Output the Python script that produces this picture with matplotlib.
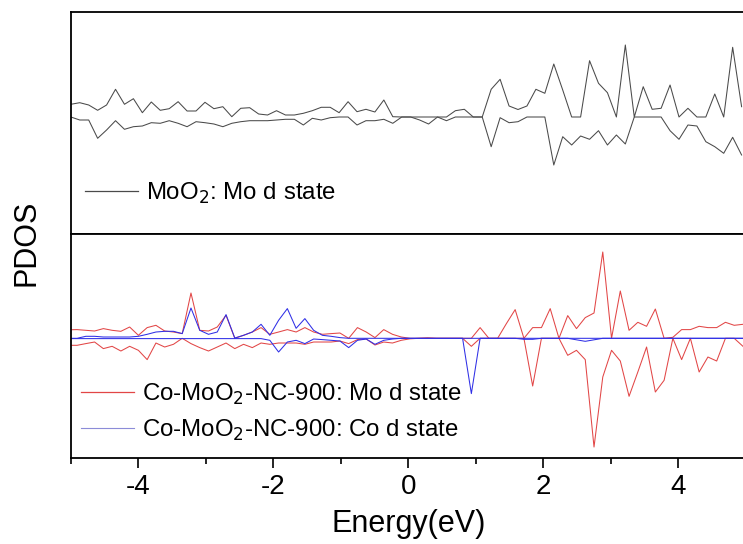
import numpy as np
import matplotlib.pyplot as plt
from matplotlib.lines import Line2D
from matplotlib.ticker import MultipleLocator

plt.rcParams['font.family'] = ['Liberation Sans', 'DejaVu Sans']
plt.rcParams['axes.unicode_minus'] = False

# energy grids (eV) of the two calculations
e_moo2 = -5.0 + 0.1325 * np.arange(76)
e_co = -5.037 + 0.1298 * np.arange(78)

# MoO2: Mo d, spin up / spin down
moo2_up = [1.27, 1.43, 1.2, 0.67, 1.2, 2.77, 1.27, 1.83, 0.43, 1.5, 0.67, 0.83, 1.53,
           0.6, 0.6, 1.47, 0.83, 1.03, 0.03, 0.87, 0.93, 0.3, 0.2, 0.63, 0.2, 0.2,
           0.37, 0.63, 0.97, 0.97, 0.43, 1.53, 0.53, 0.77, 0.5, 1.7, 0.03, 0, 0, 0,
           0, 0, 0, 0.63, 0.77, 0, 0, 2.77, 3.77, 1.1, 0.75, 1.1, 2.77, 2.37, 5.3,
           2.7, 0, 0, 5.63, 3.37, 2.43, 0, 7.2, 0, 3.03, 0.77, 0.87, 3.2, 0, 0.87,
           0, 0, 2.3, 0, 6.97, 1.03]
moo2_dn = [0, -0.3, -0.3, -2.13, -1.3, -0.37, -1.23, -0.97, -0.9, -0.57, -0.63, -0.37,
           -0.63, -0.97, -0.47, -0.57, -0.7, -0.97, -0.63, -0.47, -0.37, -0.37, -0.37,
           -0.3, -0.23, -0.23, -0.8, -0.13, -0.3, -0.07, 0, 0, -0.8, -0.37, -0.37,
           -0.23, -0.63, 0, 0, -0.3, -0.7, 0, -0.37, 0, 0, 0, 0, -2.97, -0.07, -0.57,
           -0.47, 0, 0, 0, -4.8, -1.97, -2.8, -1.9, -2.23, -1.37, -2.8, -1.8, -2.7, 0,
           0, 0, 0, -1.37, -2.23, -0.8, -0.9, -2.47, -2.97, -3.63, -2.03, -3.8]

# Co-MoO2-NC-900: Mo d, spin up / spin down
mo_up = [0.85, 0.87, 0.8, 0.73, 0.97, 0.8, 0.7, 1.13, 0.3, 1.07, 1.3, 0.73, 0.63, 0.47,
         4.53, 0.8, 0.73, 1.13, 2.3, 0, 0.3, 0.63, 1.07, 0.4, 0.63, 0.87, 0.63, 1.07,
         0.63, 0.4, 0.47, 0.53, 0, 1.07, 0.63, 0.07, 0.87, 0.4, 0.13, 0, 0, 0.05, 0,
         0, 0, 0, 0, 1.07, 0, 0, 1.47, 2.87, 0, 1.07, 1.07, 2.97, 0, 2.27, 0.97, 2.07,
         2.53, 8.63, 0, 4.73, 0.8, 1.6, 1.2, 2.93, 0, 0.1, 0.87, 0.87, 1.2, 1.07, 1.07,
         1.6, 1.3, 1.4]
mo_dn = [-0.7, -0.7, -0.53, -0.37, -1.03, -0.8, -1.27, -0.8, -1.2, -2.13, -0.47, -0.87,
         -0.6, 0, -0.53, -0.93, -1.27, -0.87, -0.47, -1.03, -0.6, -0.93, -0.47, -0.6,
         -0.47, -0.47, -0.47, -0.6, -0.37, -0.37, -0.37, -0.27, -0.53, -0.13, -0.07,
         -0.67, -0.37, -0.47, -0.2, -0.05, 0, 0, 0, 0, 0, 0, -0.8, 0, 0, 0, 0, 0, 0,
         -4.77, 0, 0, 0, -1.7, -1.2, -2.13, -10.87, -3.87, -1.2, -2.27, -5.8, -3.37,
         -0.87, -5.37, -4.2, 0, -2.13, 0, -3.37, -1.87, -2.27, 0, 0, -0.8]

# Co-MoO2-NC-900: Co d, spin up / spin down
co_up = [0, 0, 0.2, 0.2, 0.13, 0.13, 0.13, 0.13, 0.2, 0.4, 0.63, 0.7, 0.7, 0.47, 3.03,
         0.8, 0.4, 0.63, 2.37, 0.03, 0.3, 0.63, 1.4, 0.3, 1.8, 2.97, 1.0, 1.97, 0.8,
         0.3, 0.2, 0.07] + [0] * 46
co_dn = [-0.03] * 23 + [-0.2, -1.37, -0.37, -0.2, -0.53, -0.07, -0.13, -0.2, -0.27,
         -0.93, -0.2, -0.07, -0.6, -0.2, -0.07, 0, 0, 0, 0, 0, 0, 0, 0, -5.53, 0, 0,
         0, 0, 0, -0.1, -0.1, 0, 0, 0, 0, -0.15, -0.3, -0.15] + [0] * 17

fig = plt.figure(figsize=(7.43, 5.44), dpi=100)
ax1 = fig.add_axes([0.0953, 0.5693, 0.9085, 0.4081])
ax2 = fig.add_axes([0.0953, 0.1586, 0.9085, 0.4107])

grey = '#4a4a4a'
red = '#e24646'
blue = '#2f2fe6'

ax1.plot(e_moo2, moo2_up, color=grey, lw=0.75)
ax1.plot(e_moo2, moo2_dn, color=grey, lw=0.75)

ax2.plot(e_co, mo_up, color=red, lw=0.75)
ax2.plot(e_co, mo_dn, color=red, lw=0.75)
ax2.plot(e_co, co_up, color=blue, lw=0.75)
ax2.plot(e_co, co_dn, color=blue, lw=0.75)

ax1.set_ylim(-11.73, 10.47)
ax2.set_ylim(-11.94, 10.4)
for ax in (ax1, ax2):
    ax.set_xlim(-5, 5)
    ax.set_yticks([])
    for s in ax.spines.values():
        s.set_linewidth(1.3)

ax1.set_xticks([])
ax2.xaxis.set_major_locator(MultipleLocator(2))
ax2.xaxis.set_minor_locator(MultipleLocator(1))
ax2.tick_params(axis='x', which='major', direction='out', length=7, width=1.2,
                labelsize=20, pad=5)
ax2.tick_params(axis='x', which='minor', direction='out', length=4, width=1.2)
ax2.set_xlabel('Energy(eV)', fontsize=22, labelpad=6)

fig.text(0.035, 0.553, 'PDOS', rotation=90, fontsize=22, ha='center', va='center')

leg_kw = dict(frameon=False, fontsize=17.3, handlelength=2.2, handletextpad=0.35,
              borderpad=0, borderaxespad=0, labelspacing=0.45, loc='center left')
h_moo2 = [Line2D([], [], color=grey, lw=0.9)]
ax1.legend(h_moo2, [r'MoO$_2$: Mo d state'], bbox_to_anchor=(0.021, 0.186), **leg_kw)
h_co = [Line2D([], [], color=red, lw=0.9), Line2D([], [], color='#8c8cd8', lw=0.8)]
ax2.legend(h_co, [r'Co-MoO$_2$-NC-900: Mo d state', r'Co-MoO$_2$-NC-900: Co d state'],
           bbox_to_anchor=(0.015, 0.205), **leg_kw)

plt.savefig('out.png', dpi=100)
